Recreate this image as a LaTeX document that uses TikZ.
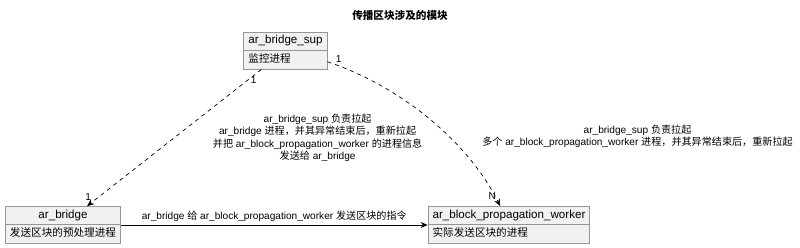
\documentclass[tikz,border=0pt]{standalone}
\usepackage{tikz}
\usepackage{fontspec}
\setmainfont{Liberation Sans}
\newfontfamily\cjk[Scale=0.914]{Noto Sans CJK SC}
\newfontfamily\cjklab[Scale=1.0]{Noto Sans CJK SC}
\newcommand{\zh}[1]{{\cjk #1}}
\newcommand{\zhl}[1]{{\cjklab #1}}
\definecolor{boxfill}{RGB}{241, 241, 241}
\definecolor{boxline}{RGB}{150, 150, 150}
\usetikzlibrary{shapes.multipart, arrows.meta, positioning}

\begin{document}
\begin{tikzpicture}[
        x=1pt, y=-1pt,
        module/.style={rectangle split, rectangle split parts=2, rectangle split part align={center, left}, draw=boxline, fill=boxfill, line width=0.9pt, inner xsep=4.5pt, inner ysep=2.5pt, font=\fontsize{11.6}{12.5}\selectfont},
        dep/.style={line width=0.7pt, dash pattern=on 4pt off 4pt, -{Stealth[length=7pt, width=6pt]}},
        msg/.style={line width=0.8pt, -{Stealth[length=7pt, width=6pt]}},
        lab/.style={font=\fontsize{10.1}{12.3}\selectfont, align=center},
        mult/.style={font=\fontsize{10.1}{12}\selectfont, inner sep=1pt}
    ]
        \useasboundingbox (0,0) rectangle (800,247);

        % Title
        \node[font=\fontsize{11.6}{14}\selectfont\bfseries] (title) at (400,15) {\zh{传播区块涉及的模块}};

        % Modules
        \node[module] (sup) at (285.5,50.5) {\strut ar\_bridge\_sup \nodepart{two} \strut\zh{监控进程}};
        \node[module] (bridge) at (63,225) {\strut ar\_bridge \nodepart{two} \strut\zh{发送区块的预处理进程}};
        \node[module] (worker) at (509,225) {\strut ar\_block\_propagation\_worker \nodepart{two} \strut\zh{实际发送区块的进程}};

        % sup starts ar_bridge
        \draw[dep] (sup) -- (bridge)
            node[pos=0.08, right=2pt, mult] {1}
            node[pos=0.97, above left, mult] {1}
            node[midway, right=35pt, lab] {ar\_bridge\_sup \zhl{负责拉起}\\ar\_bridge \zhl{进程，并其异常结束后，重新拉起}\\\zhl{并把} ar\_block\_propagation\_worker \zhl{的进程信息}\\\zhl{发送给} ar\_bridge};

        % sup starts the workers
        \draw[dep] (sup.-15.5) .. controls (405,88) and (470,145) .. (worker.115)
            node[pos=0.03, above right, mult] {1}
            node[pos=0.97, above left, mult] {N}
            node[pos=0.6, right=30pt, lab] {ar\_bridge\_sup \zhl{负责拉起}\\\zhl{多个} ar\_block\_propagation\_worker \zhl{进程，并其异常结束后，重新拉起}};

        % ar_bridge sends to the workers
        \draw[msg] (bridge) -- (worker)
            node[midway, above, lab] {ar\_bridge \zhl{给} ar\_block\_propagation\_worker \zhl{发送区块的指令}};
    \end{tikzpicture}
\end{document}
